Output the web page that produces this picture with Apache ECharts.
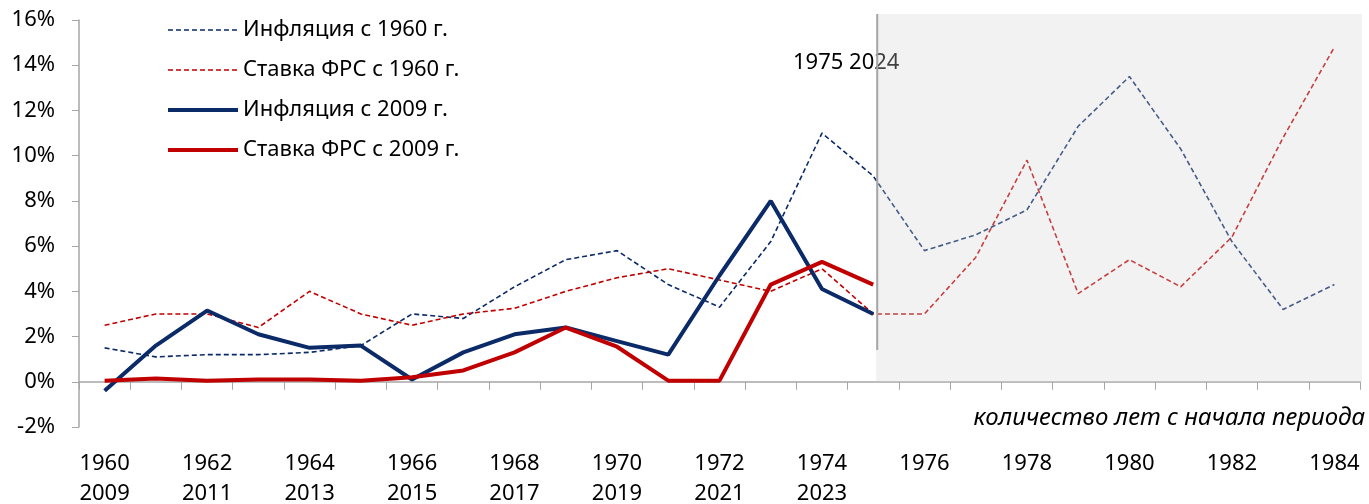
<!DOCTYPE html>
<html>
<head>
<meta charset="utf-8">
<script src="https://cdn.jsdelivr.net/npm/echarts@6/dist/echarts.min.js"></script>
<style>
  html, body { margin: 0; padding: 0; background: #fff; }
  #main { width: 1369px; height: 504px; }
</style>
</head>
<body>
<div id="main"></div>
<script>
// годы по оси X
var years = ['1960','1961','1962','1963','1964','1965','1966','1967','1968','1969','1970','1971','1972',
  '1973','1974','1975','1976','1977','1978','1979','1980','1981','1982','1983','1984'];
var years2 = ['2009','2010','2011','2012','2013','2014','2015','2016','2017','2018','2019','2020','2021','2022','2023'];
var yTicks = [-2, 0, 2, 4, 6, 8, 10, 12, 14, 16];

var infl1960 = [1.5, 1.1, 1.2, 1.2, 1.3, 1.6, 3.0, 2.8, 4.2, 5.4, 5.8, 4.3, 3.3, 6.2, 11.0, 9.1,
  5.8, 6.5, 7.6, 11.3, 13.5, 10.3, 6.2, 3.2, 4.3];
var fed1960 = [2.5, 3.0, 3.0, 2.4, 4.0, 3.0, 2.5, 3.0, 3.25, 4.0, 4.6, 5.0, 4.5, 4.0, 5.0, 3.0,
  3.0, 5.5, 9.8, 3.9, 5.4, 4.2, 6.4, 10.8, 14.8];
var infl2009 = [-0.4, 1.6, 3.15, 2.1, 1.5, 1.6, 0.1, 1.3, 2.1, 2.4, 1.8, 1.2, 4.7, 8.0, 4.1, 3.0];
var fed2009 = [0.05, 0.15, 0.05, 0.1, 0.1, 0.05, 0.2, 0.5, 1.3, 2.4, 1.55, 0.05, 0.05, 4.3, 5.3, 4.3];

var names = ['Инфляция с 1960 г.', 'Ставка ФРС с 1960 г.', 'Инфляция с 2009 г.', 'Ставка ФРС с 2009 г.'];
var navy = '#0B2A68';
var red = '#C00000';
var font = 'Noto Sans';

var myChart = echarts.init(document.getElementById('main'));

var option = {
  animation: false,
  textStyle: { fontFamily: font },
  grid: { left: 79, right: 9, top: 20, bottom: 77, outerBoundsMode: 'none', containLabel: false },
  legend: {
    orient: 'vertical',
    left: 161,
    top: 14,
    itemWidth: 70,
    itemHeight: 14,
    itemGap: 18,
    itemStyle: { opacity: 0 },
    textStyle: { fontSize: 22, color: '#000', fontFamily: font },
    data: [
      { name: names[0], lineStyle: { width: 1.6 } },
      { name: names[1], lineStyle: { width: 1.6 } },
      { name: names[2], lineStyle: { width: 4 } },
      { name: names[3], lineStyle: { width: 4 } }
    ]
  },
  xAxis: [{
    type: 'category',
    data: years,
    boundaryGap: true,
    axisLine: { onZero: true, lineStyle: { color: '#A6A6A6', width: 1.5 } },
    axisTick: { show: true, interval: 0, length: 8, lineStyle: { color: '#A6A6A6' } },
    axisLabel: { show: false }
  }, {
    type: 'category',
    data: years,
    position: 'bottom',
    boundaryGap: true,
    axisLine: { show: false, onZero: false },
    axisTick: { show: false },
    axisLabel: {
      interval: 1,
      margin: 22,
      fontSize: 22,
      lineHeight: 30,
      color: '#000',
      formatter: function (v, i) {
        return i < years2.length ? v + '\n' + years2[i] : v;
      }
    }
  }],
  yAxis: {
    type: 'value',
    min: yTicks[0],
    max: yTicks[yTicks.length - 1],
    interval: 2,
    splitLine: { show: false },
    axisLine: { show: true, lineStyle: { color: '#A6A6A6', width: 1.5 } },
    axisTick: { show: true, length: 7, lineStyle: { color: '#A6A6A6' } },
    axisLabel: { fontSize: 22, color: '#000', margin: 24, formatter: '{value}%' }
  },
  series: [{
    name: names[0], type: 'line', symbol: 'none', data: infl1960,
    lineStyle: { color: navy, width: 1.6, type: [5, 3] }, itemStyle: { color: navy }
  }, {
    name: names[1], type: 'line', symbol: 'none', data: fed1960,
    lineStyle: { color: red, width: 1.6, type: [5, 3] }, itemStyle: { color: red }
  }, {
    name: names[2], type: 'line', symbol: 'none', data: infl2009,
    lineStyle: { color: navy, width: 4 }, itemStyle: { color: navy }
  }, {
    name: names[3], type: 'line', symbol: 'none', data: fed2009,
    lineStyle: { color: red, width: 4 }, itemStyle: { color: red }
  }]
};

myChart.setOption(option);

// серая зона после 1975 года
var p0 = myChart.convertToPixel({ xAxisIndex: 0, yAxisIndex: 0 }, [15, 16]);
var pZero = myChart.convertToPixel({ xAxisIndex: 0, yAxisIndex: 0 }, [15, 0]);
var pLine = myChart.convertToPixel({ xAxisIndex: 0, yAxisIndex: 0 }, [15, 1.4]);
var rightEdge = 1369 - 9;
var x0 = p0[0] + 3;

myChart.setOption({
  graphic: [{
    type: 'rect', z: 100,
    shape: { x: x0, y: p0[1] - 6, width: rightEdge + 2 - x0, height: pZero[1] - p0[1] + 6 },
    style: { fill: 'rgba(213,213,213,0.3)' }
  }, {
    type: 'line', z: 101,
    shape: { x1: x0 + 1, y1: p0[1] - 6, x2: x0 + 1, y2: pLine[1] },
    style: { stroke: '#A6A6A6', lineWidth: 2 }
  }, {
    type: 'text', z: 50,
    left: 793, top: 52,
    style: { text: '1975 2024', font: '22px "Noto Sans"', fill: '#000' }
  }, {
    type: 'text', z: 50,
    right: 4, top: 406,
    style: { text: 'количество лет с начала периода', font: 'italic 24px "Noto Sans"', fill: '#000' }
  }]
});
</script>
</body>
</html>
